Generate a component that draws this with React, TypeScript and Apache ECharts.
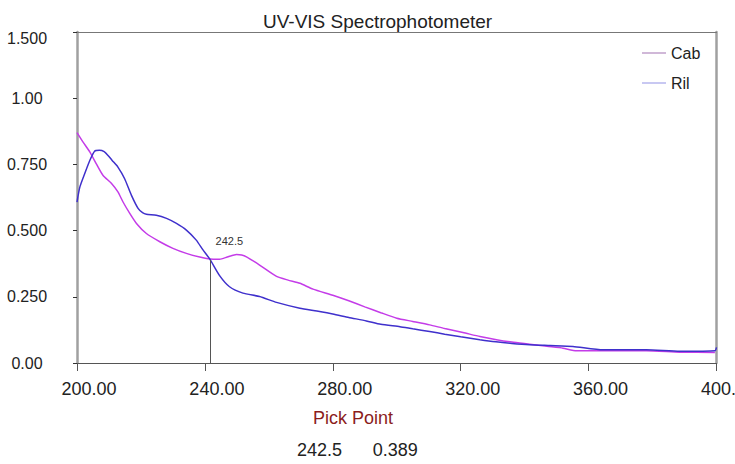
import React, { useEffect, useRef } from "react";
import * as echarts from "echarts";

const chartTitle = "UV-VIS Spectrophotometer";
const seriesNames = ["Cab", "Ril"];
const xTicks = { min: 200, max: 400, interval: 40 };
const yTickLabels = ["0.00", "0.250", "0.500", "0.750", "1.00", "1.500"];
const yStep = 0.25;

// Cab (magenta) [wavelength, absorbance]
const cabData: [number, number][] = [
  [200, 0.870], [201.9, 0.834], [204, 0.797], [206, 0.753], [208.1, 0.709],
  [210.8, 0.678], [212.8, 0.646], [214.4, 0.608], [216.5, 0.565], [218.6, 0.527],
  [221.7, 0.489], [225.9, 0.458], [230, 0.433], [234.2, 0.414], [238.4, 0.400],
  [241.5, 0.393], [244.6, 0.392], [247, 0.400], [249.9, 0.410], [251.5, 0.408],
  [253, 0.401], [257.1, 0.370], [262.4, 0.327], [266, 0.313], [269.7, 0.301],
  [273.8, 0.279], [280, 0.256], [285, 0.235], [290, 0.212], [295, 0.190],
  [300, 0.169], [305, 0.157], [310.3, 0.144], [315, 0.130], [320.7, 0.115],
  [326, 0.100], [331.2, 0.088], [336, 0.079], [341.6, 0.071], [347, 0.063],
  [352, 0.056], [356.2, 0.046], [367.7, 0.046], [378.1, 0.046], [388.5, 0.041],
  [399.5, 0.040],
];

// Ril (blue)
const rilData: [number, number][] = [
  [200, 0.608], [200.9, 0.665], [202.4, 0.715], [204, 0.765], [205.5, 0.800],
  [207, 0.803], [208.5, 0.798], [209.7, 0.784], [211, 0.765], [212.8, 0.740],
  [214.9, 0.696], [217, 0.634], [219.1, 0.584], [220.5, 0.568], [221.7, 0.562],
  [224.8, 0.558], [228, 0.546], [231.1, 0.527], [234.2, 0.502], [237.3, 0.464],
  [239.4, 0.427], [241.5, 0.393], [244.6, 0.330], [247.7, 0.288], [251.9, 0.264],
  [257.1, 0.251], [262.4, 0.229], [269.7, 0.207], [275, 0.196], [280, 0.185],
  [285, 0.172], [290.5, 0.159], [295, 0.146], [301, 0.137], [305, 0.129],
  [310.3, 0.119], [315, 0.109], [320, 0.099], [326, 0.088], [331, 0.080],
  [336, 0.074], [341.6, 0.069], [348, 0.066], [355.1, 0.0625], [364.5, 0.050],
  [378.1, 0.050], [388.5, 0.044], [399.5, 0.046], [400, 0.059],
];

const pickPoint = 242.5;
const pickValue = 0.389;
const pickLineX = 241.7;

const FONT = "'Liberation Sans', Arial, sans-serif";

export default function App() {
  const ref = useRef<HTMLDivElement>(null);

  useEffect(() => {
    if (!ref.current) return;
    const chart = echarts.init(ref.current, undefined, { renderer: "svg" });
    const option: any = {
      animation: false,
      textStyle: { fontFamily: FONT },
      title: {
        text: chartTitle,
        left: 258,
        top: 7,
        textStyle: { fontSize: 19, fontWeight: "normal", color: "#222", fontFamily: FONT },
      },
      legend: {
        orient: "vertical",
        left: 637,
        top: 40,
        itemGap: 14,
        itemWidth: 24,
        itemHeight: 1,
        icon: "rect",
        textStyle: { fontSize: 16, color: "#222", fontFamily: FONT, lineHeight: 16 },
        data: [
          { name: seriesNames[0], itemStyle: { color: "#a070b0" } },
          { name: seriesNames[1], itemStyle: { color: "#9090e4" } },
        ],
      },
      grid: {
        left: 77,
        right: 18.5,
        top: 32,
        bottom: 101,
        show: false,
        containLabel: false,
        outerBoundsMode: "none",
      },
      xAxis: [
        {
          type: "value",
          min: xTicks.min,
          max: xTicks.max,
          interval: xTicks.interval,
          axisLine: { onZero: false, lineStyle: { color: "#555", width: 1 } },
          axisTick: { length: 8, lineStyle: { color: "#555" } },
          splitLine: { show: false },
          axisLabel: {
            fontSize: 18,
            color: "#222",
            margin: 17,
            padding: [0, 0, 0, 24],
            fontFamily: FONT,
            formatter: (v: number) => v.toFixed(2),
          },
        },
        {
          type: "value",
          position: "top",
          min: xTicks.min,
          max: xTicks.max,
          axisLine: { show: true, onZero: false, lineStyle: { color: "#777", width: 1 } },
          axisTick: { show: false },
          axisLabel: { show: false },
          splitLine: { show: false },
        },
      ],
      yAxis: [
        {
          type: "value",
          min: 0,
          max: yStep * (yTickLabels.length - 1),
          interval: yStep,
          axisLine: { show: true, onZero: false, lineStyle: { color: "#a0a0a0", width: 2.5 } },
          axisTick: { show: true, length: 4, lineStyle: { color: "#333" } },
          splitLine: { show: false },
          axisLabel: {
            fontSize: 16,
            color: "#222",
            align: "center",
            margin: 50,
            fontFamily: FONT,
            formatter: (v: number) => {
              const i = Math.round(v / yStep);
              const s = yTickLabels[i] ?? "";
              return i === yTickLabels.length - 1 ? "{top|" + s + "}" : s;
            },
            rich: {
              top: { fontSize: 16, color: "#222", padding: [12, 0, 0, 0], fontFamily: FONT },
            },
          },
        },
        {
          type: "value",
          position: "right",
          min: 0,
          max: yStep * (yTickLabels.length - 1),
          axisLine: { show: true, onZero: false, lineStyle: { color: "#a0a0a0", width: 2.5 } },
          axisTick: { show: false },
          axisLabel: { show: false },
          splitLine: { show: false },
        },
      ],
      series: [
        {
          name: seriesNames[0],
          type: "line",
          data: cabData,
          showSymbol: false,
          symbol: "none",
          smooth: 0.2,
          lineStyle: { color: "#c43ce8", width: 1.5 },
          itemStyle: { color: "#c43ce8" },
        },
        {
          name: seriesNames[1],
          type: "line",
          data: rilData,
          showSymbol: false,
          symbol: "none",
          smooth: 0.2,
          lineStyle: { color: "#3f30cc", width: 1.5 },
          itemStyle: { color: "#3f30cc" },
          markLine: {
            silent: true,
            symbol: ["none", "none"],
            label: { show: false },
            lineStyle: { color: "#555", width: 1, type: "solid" },
            data: [[{ coord: [pickLineX, 0] }, { coord: [pickLineX, pickValue] }]],
          },
          markPoint: {
            silent: true,
            symbol: "circle",
            symbolSize: 0,
            data: [{ coord: [pickLineX, pickValue], value: pickPoint }],
            label: {
              show: true,
              position: "inside",
              offset: [19, -19],
              fontSize: 11,
              color: "#333",
              fontFamily: FONT,
              formatter: () => String(pickPoint),
            },
          },
        },
      ],
      graphic: [
        {
          type: "text",
          x: 353,
          y: 418,
          style: {
            text: "Pick Point",
            fontSize: 18,
            fill: "#8b1c1c",
            fontFamily: FONT,
            textAlign: "center",
            textVerticalAlign: "middle",
          },
        },
        {
          type: "text",
          x: 319.5,
          y: 450,
          style: {
            text: String(pickPoint),
            fontSize: 18,
            fill: "#222",
            fontFamily: FONT,
            textAlign: "center",
            textVerticalAlign: "middle",
          },
        },
        {
          type: "text",
          x: 395.3,
          y: 450,
          style: {
            text: pickValue.toFixed(3),
            fontSize: 18,
            fill: "#222",
            fontFamily: FONT,
            textAlign: "center",
            textVerticalAlign: "middle",
          },
        },
      ],
    };
    chart.setOption(option);
    return () => chart.dispose();
  }, []);

  return (
    <div
      ref={ref}
      style={{ position: "absolute", left: 0, top: 0, width: 735, height: 464, background: "#fff" }}
    />
  );
}
